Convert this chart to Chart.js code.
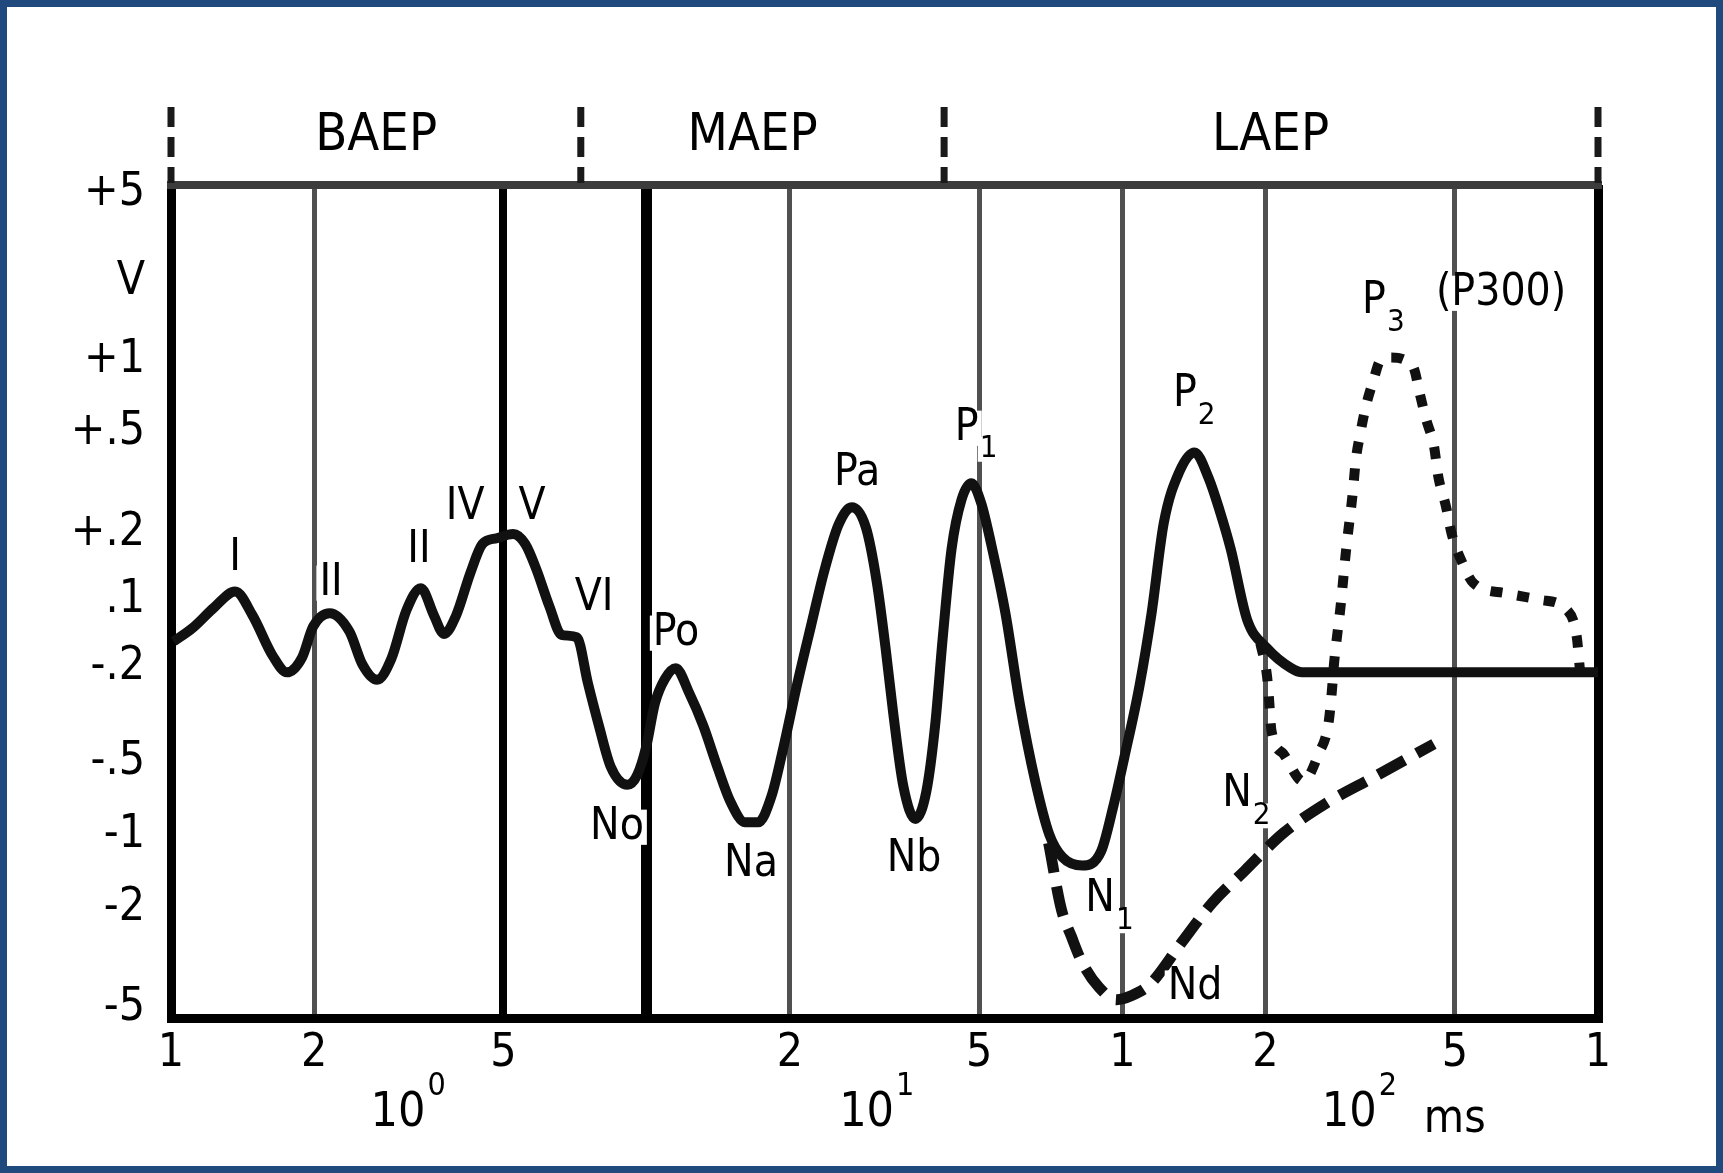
<!DOCTYPE html>
<html>
<head>
<meta charset="utf-8">
<script src="https://cdn.jsdelivr.net/npm/chart.js@4.4.1/dist/chart.umd.min.js"></script>
<style>
html,body{margin:0;padding:0;background:#fff;}
canvas{display:block;}
</style>
</head>
<body>
<canvas id="c" width="1723" height="1173"></canvas>
<script>
// ---- axis ticks ----
const xTickValues = [1, 2, 5, 10, 20, 50, 100, 200, 500, 1000];
const xTickLabels = ['1', '2', '5', '', '2', '5', '1', '2', '5', '1'];
const yTickPositions = [99.0, 88.4, 79.0, 70.4, 58.2, 50.2, 42.1, 30.7, 22.0, 13.2, 1.2];
const yTickLabels = ['+5', 'V', '+1', '+.5', '+.2', '.1', '-.2', '-.5', '-1', '-2', '-5'];

// ---- main evoked-potential waveform (latency in ms, amplitude in relative plot units) ----
const latencyMs = [1.013, 1.109, 1.233, 1.364, 1.485, 1.635, 1.752, 1.887, 1.990, 2.156,
  2.372, 2.528, 2.710, 2.904, 3.128, 3.352, 3.573, 3.748, 3.974, 4.258,
  4.515, 4.838, 5.241, 5.556, 5.859, 6.246, 6.622, 7.135, 7.524, 7.935,
  8.412, 9.112, 9.559, 9.973, 10.41, 10.92, 11.51, 12.27, 13.15, 14.09,
  15.02, 16.09, 17.16, 18.29, 19.39, 20.67, 22.14, 23.61, 25.31, 26.97,
  28.89, 30.47, 31.79, 33.00, 34.62, 36.72, 38.72, 40.40, 41.93, 43.75,
  45.90, 48.15, 50.51, 52.99, 56.78, 60.84, 65.55, 70.25, 74.87, 82.40,
  90.22, 95.63, 100.9, 108.6, 115.2, 122.2, 131.6, 141.8, 151.9, 160.2,
  169.0, 183.0, 201.4, 226.4, 238.8, 1000];
const amplitude = [45.2, 46.8, 49.3, 51.2, 48.3, 43.5, 41.5, 43.3, 47.0, 48.6,
  46.4, 42.4, 40.6, 43.1, 49.0, 51.6, 48.3, 46.1, 48.3, 53.4,
  56.9, 57.6, 58.1, 56.9, 53.9, 49.4, 46.0, 45.7, 40.2, 35.1,
  30.1, 28.0, 29.2, 32.5, 37.8, 40.7, 42.0, 39.1, 35.1, 30.1,
  25.9, 23.5, 23.5, 26.6, 32.5, 39.8, 47.0, 53.6, 59.2, 61.3,
  58.9, 52.3, 44.4, 36.5, 27.9, 23.9, 27.2, 35.1, 45.7, 56.3,
  62.2, 64.2, 61.8, 56.9, 48.6, 37.8, 28.5, 22.0, 19.3, 18.3,
  20.0, 25.3, 31.2, 39.8, 48.6, 59.4, 65.5, 67.9, 64.8, 60.9,
  56.3, 47.8, 44.4, 42.0, 41.5, 41.5];

// ---- dotted N2 / P3 (P300) branch ----
const p300Ms = [195.0, 201.4, 203.5, 205.7, 218.1, 240.0, 258.6, 271.3, 275.6, 278.6,
  287.6, 295.3, 305.0, 309.8, 316.5, 325.0, 337.4, 348.3, 365.3, 395.7,
  410.7, 421.8, 435.5, 451.9, 461.6, 479.1, 492.0, 516.1, 547.3, 638.7,
  757.2, 860.3, 902.5, 917.1];
const p300Amp = [45.0, 41.1, 38.2, 34.6, 31.7, 28.4, 31.7, 35.4, 39.1, 42.5,
  49.4, 56.1, 63.0, 67.1, 70.2, 73.4, 76.6, 78.9, 79.3, 78.9,
  77.9, 75.0, 71.8, 68.7, 65.0, 61.4, 58.2, 54.9, 52.2, 51.0,
  50.2, 49.0, 45.7, 41.5];

// ---- dashed Nd branch ----
const ndMs = [70.0, 74.47, 78.12, 81.94, 89.24, 97.17, 104.7, 114.6, 133.0, 154.4, 181.0, 218.1, 268.5, 337.4, 451.9];
const ndAmp = [21.0, 13.0, 9.8, 6.9, 3.7, 2.2, 2.7, 4.1, 9.0, 13.8, 17.7, 22.2, 25.8, 28.9, 32.9];

// ---- component labels ----
const peakNames = ['I', 'II', 'II', 'IV', 'V', 'VI', 'Po', 'No', 'Na', 'Pa', 'Nb', 'P', 'N', 'Nd', 'P', 'N', 'P', '(P300)'];
const peakSubs  = ['', '', '', '', '', '', '', '', '', '', '', '1', '1', '', '2', '2', '3', ''];
const peakMs    = [1.363, 2.170, 3.322, 4.152, 5.741, 7.75, 11.53, 8.66, 16.57, 27.7, 36.5, 47.1, 89.8, 142.2, 135.4, 174.2, 338.2, 625.4];
const peakAmp   = [55.1, 52.2, 56.1, 61.3, 61.3, 50.4, 46.2, 22.9, 18.4, 65.4, 19.0, 70.8, 14.2, 3.6, 74.8, 26.8, 86.0, 87.0];

// ---- region header ----
const regionNames = ['BAEP', 'MAEP', 'LAEP'];
const regionCentres = [2.7, 16.7, 205];
const regionBounds = [1, 7.27, 42.2, 1000];

// ---- decade labels ----
const decadeBase = ['10', '10', '10'];
const decadeExp = ['0', '1', '2'];
const decadePos = [3, 29, 300];
const unitLabel = 'ms';
const unitPos = 500;

const FONT = "'DejaVu Sans Condensed', 'DejaVu Sans', sans-serif";

function toPoints(xs, ys) { return xs.map((x, i) => ({ x: x, y: ys[i] })); }

function gridStyle(v) {
  if (v === 1 || v === 1000) return { c: '#000', w: 9 };
  if (v === 10) return { c: '#000', w: 11 };
  if (v === 5) return { c: '#000', w: 8 };
  return { c: '#505050', w: 5 };
}

function drawLabel(ctx, text, sub, x, y, size) {
  const subSize = Math.round(size * 0.7);
  ctx.font = size + 'px ' + FONT;
  const w = ctx.measureText(text).width;
  let sw = 0;
  if (sub) { ctx.font = subSize + 'px ' + FONT; sw = ctx.measureText(sub).width; }
  ctx.fillStyle = '#fff';
  ctx.fillRect(x - w / 2 - 3, y - size * 0.40, w + 6, size * 0.80);
  const sx = x + w / 2 + 1, sy = y + size * 0.48;
  if (sub) ctx.fillRect(sx - 2, sy - subSize * 0.40, sw + 4, subSize * 0.80);
  ctx.fillStyle = '#000';
  ctx.textBaseline = 'middle';
  ctx.textAlign = 'center';
  ctx.font = size + 'px ' + FONT;
  ctx.fillText(text, x, y);
  if (sub) {
    ctx.textAlign = 'left';
    ctx.font = subSize + 'px ' + FONT;
    ctx.fillText(sub, sx, sy);
  }
}

const decor = {
  id: 'decor',
  beforeDraw(chart) {
    const ctx = chart.ctx;
    ctx.save();
    ctx.fillStyle = '#fff';
    ctx.fillRect(0, 0, chart.width, chart.height);
    ctx.restore();
  },
  beforeDatasetsDraw(chart) {
    const ctx = chart.ctx, a = chart.chartArea;
    ctx.save();
    ctx.strokeStyle = '#3c3c3c';
    ctx.lineWidth = 8;
    ctx.beginPath();
    ctx.moveTo(a.left - 4, a.top);
    ctx.lineTo(a.right + 4, a.top);
    ctx.stroke();
    ctx.restore();
  },
  afterDatasetsDraw(chart) {
    const ctx = chart.ctx, xs = chart.scales.x, ys = chart.scales.y;
    ctx.save();
    for (let i = 0; i < peakNames.length; i++) {
      drawLabel(ctx, peakNames[i], peakSubs[i], xs.getPixelForValue(peakMs[i]), ys.getPixelForValue(peakAmp[i]), 44);
    }
    ctx.restore();
  },
  afterDraw(chart) {
    const ctx = chart.ctx, xs = chart.scales.x, a = chart.chartArea;
    ctx.save();
    // region separators
    ctx.strokeStyle = '#1a1a1a';
    ctx.lineWidth = 7;
    ctx.setLineDash([20, 10]);
    regionBounds.forEach(b => {
      const px = xs.getPixelForValue(b);
      ctx.beginPath();
      ctx.moveTo(px, 107);
      ctx.lineTo(px, a.top - 2);
      ctx.stroke();
    });
    ctx.setLineDash([]);
    // region names
    ctx.fillStyle = '#000';
    ctx.textAlign = 'center';
    ctx.textBaseline = 'middle';
    ctx.font = '52px ' + FONT;
    regionNames.forEach((n, i) => ctx.fillText(n, xs.getPixelForValue(regionCentres[i]), 136));
    // decade labels
    decadeBase.forEach((t, i) => {
      const px = xs.getPixelForValue(decadePos[i]);
      ctx.font = '48px ' + FONT;
      ctx.textAlign = 'center';
      const w = ctx.measureText(t).width;
      ctx.fillText(t, px, 1114);
      ctx.font = '32px ' + FONT;
      ctx.textAlign = 'left';
      ctx.fillText(decadeExp[i], px + w / 2 + 2, 1087);
    });
    ctx.font = '46px ' + FONT;
    ctx.textAlign = 'center';
    ctx.fillText(unitLabel, xs.getPixelForValue(unitPos), 1120);
    // outer frame
    ctx.strokeStyle = '#204a7e';
    ctx.lineWidth = 7;
    ctx.strokeRect(3.5, 3.5, chart.width - 7, chart.height - 7);
    ctx.restore();
  }
};

new Chart(document.getElementById('c'), {
  type: 'line',
  data: {
    datasets: [
      { data: toPoints(latencyMs, amplitude), borderColor: '#111', borderWidth: 10, borderDash: [] },
      { data: toPoints(p300Ms, p300Amp), borderColor: '#111', borderWidth: 10, borderDash: [12, 15] },
      { data: toPoints(ndMs, ndAmp), borderColor: '#111', borderWidth: 11, borderDash: [30, 14] }
    ]
  },
  options: {
    responsive: false,
    animation: false,
    events: [],
    layout: { padding: { left: 0, right: 125, top: 185, bottom: 0 } },
    elements: {
      point: { radius: 0 },
      line: { cubicInterpolationMode: 'monotone', borderJoinStyle: 'round', borderCapStyle: 'butt' }
    },
    plugins: { legend: { display: false }, tooltip: { enabled: false } },
    scales: {
      x: {
        type: 'logarithmic',
        min: 1,
        max: 1000,
        afterBuildTicks(scale) { scale.ticks = xTickValues.map(v => ({ value: v })); },
        afterFit(scale) { scale.height = 155; },
        grid: {
          drawTicks: false,
          color: c => gridStyle(c.tick ? c.tick.value : 0).c,
          lineWidth: c => gridStyle(c.tick ? c.tick.value : 0).w
        },
        border: { display: true, color: '#000', width: 9 },
        ticks: {
          autoSkip: false,
          maxRotation: 0,
          padding: 8,
          color: '#000',
          font: { family: FONT, size: 46 },
          callback: v => { const i = xTickValues.indexOf(v); return i >= 0 ? xTickLabels[i] : ''; }
        }
      },
      y: {
        type: 'linear',
        min: 0,
        max: 100,
        afterBuildTicks(scale) { scale.ticks = yTickPositions.map(v => ({ value: v })); },
        afterFit(scale) { scale.width = 171; },
        grid: { display: false, drawTicks: false },
        border: { display: false },
        ticks: {
          autoSkip: false,
          padding: 26,
          color: '#000',
          font: { family: FONT, size: 46 },
          callback: v => { const i = yTickPositions.indexOf(v); return i >= 0 ? yTickLabels[i] : ''; }
        }
      }
    }
  },
  plugins: [decor]
});
</script>
</body>
</html>
